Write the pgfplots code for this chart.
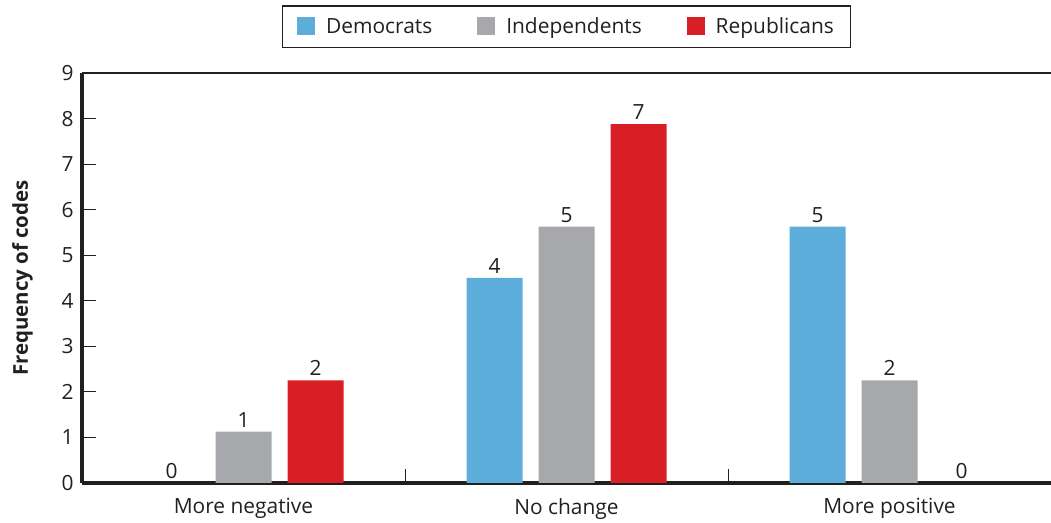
\documentclass[border=0pt]{standalone}
\usepackage{pgfplots}
\pgfplotsset{compat=1.18}
\usepackage{pgfplotstable}
\usepackage{fontspec}
\setmainfont{Open Sans}

\definecolor{dem}{HTML}{5DADDB}
\definecolor{ind}{HTML}{A7A8AC}
\definecolor{rep}{HTML}{D91F26}
\definecolor{ink}{HTML}{231F20}

% bar heights as drawn (h) and the printed count (n)
\pgfplotstableread{
x h n
0 0 0
1 4.5 4
2 5.625 5
}\dem
\pgfplotstableread{
x h n
0 1.125 1
1 5.625 5
2 2.25 2
}\ind
\pgfplotstableread{
x h n
0 2.25 2
1 7.875 7
2 0 0
}\rep

\newcommand\lbl{\fontsize{21}{24}\selectfont}

\begin{document}
\begin{tikzpicture}
\begin{axis}[
    name=ax,
    scale only axis,
    width=969bp, height=410bp,
    ybar=16bp, bar width=56bp,
    xmin=-0.5, xmax=2.5,
    ymin=0, ymax=9,
    /pgf/number format/assume math mode=true,
    axis x line*=bottom, axis y line*=left,
    x axis line style={line width=4bp, ink},
    y axis line style={line width=4bp, ink},
    xtick={0,1,2},
    xticklabels={More negative, No change, More positive},
    minor xtick={0.5,1.5},
    major x tick style={draw=none},
    minor tick length=14bp,
    xtick align=inside,
    ytick={0,...,9},
    ytick align=inside,
    major tick length=14bp,
    tick style={ink, line width=0.8bp},
    tick label style={font=\lbl, text=ink},
    xticklabel style={yshift=-12bp},
    yticklabel style={xshift=-5bp},
    ylabel={\bfseries Frequency of codes},
    ylabel style={font=\fontsize{20.5}{22}\selectfont, text=ink, yshift=22bp},
    nodes near coords={\pgfmathprintnumber{\pgfplotspointmeta}},
    nodes near coords style={font=\lbl, text=ink, yshift=1bp},
    point meta=explicit,
    legend columns=3,
    legend style={at={(0.5,1)}, anchor=south, yshift=25bp,
        draw=ink, line width=1.2bp,
        font=\lbl, text=ink,
        inner xsep=15bp, inner ysep=10bp,
        /tikz/every odd column/.append style={column sep=9bp},
        /tikz/every even column/.append style={column sep=43bp}},
    legend image code/.code={\fill[#1, draw=none] (0bp,-8bp) rectangle (18bp,10bp);},
]
\addplot[fill=dem, draw=none] table[x=x, y=h, meta=n] {\dem};
\addplot[fill=ind, draw=none] table[x=x, y=h, meta=n] {\ind};
\addplot[fill=rep, draw=none] table[x=x, y=h, meta=n] {\rep};
\legend{Democrats, Independents, Republicans}
\draw[ink, line width=1.5bp] (rel axis cs:0,1) -- (rel axis cs:1,1);
\end{axis}
\pgfresetboundingbox
\path ([shift={(-82bp,-40bp)}]ax.south west) rectangle ([shift={(0bp,73bp)}]ax.north east);
\end{tikzpicture}
\end{document}
